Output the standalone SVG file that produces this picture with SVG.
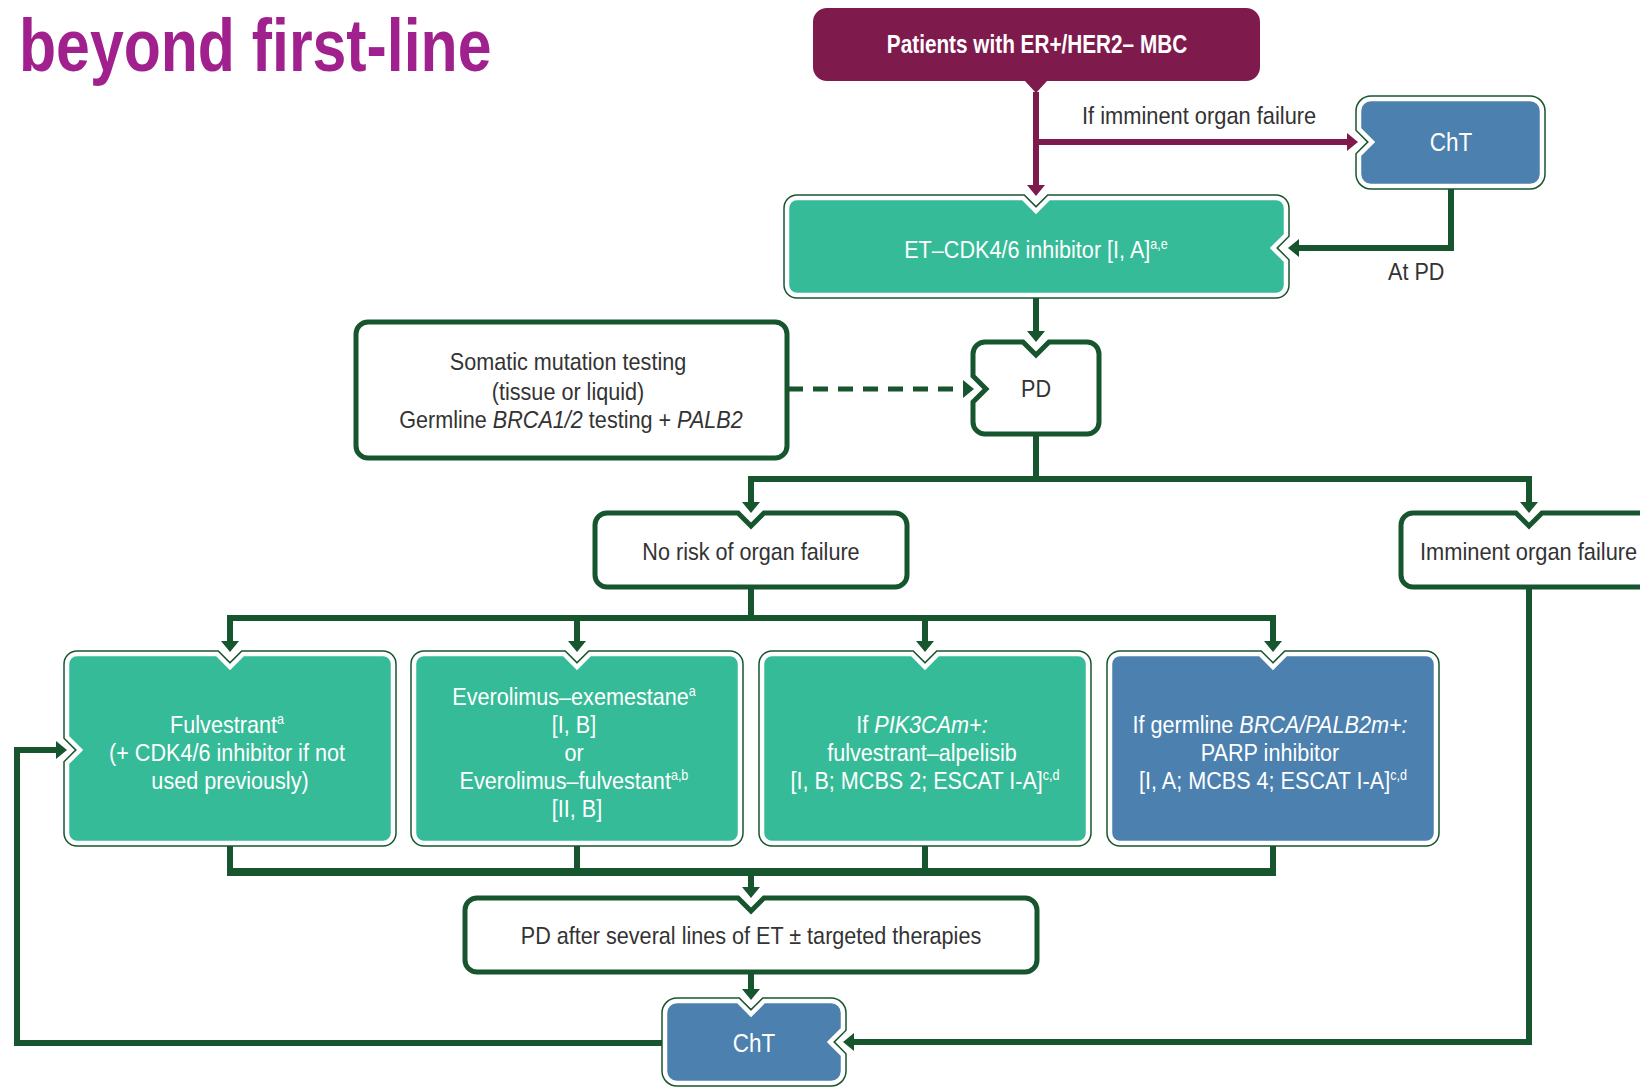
<svg xmlns="http://www.w3.org/2000/svg" width="1640" height="1087" viewBox="0 0 1640 1087">
<style>
  text { font-family: "Liberation Sans", Arial, sans-serif; }
  .title { font-size: 75px; font-weight: bold; fill: #A0218D; }
  .t { font-size: 24px; fill: #333333; text-anchor: middle; }
  .ts { font-size: 24px; fill: #333333; text-anchor: start; }
  .w { fill: #ffffff; }
  .hb { font-size: 25px; font-weight: bold; fill: #ffffff; text-anchor: middle; }
  .sup { font-size: 14px; }
  .it { font-style: italic; }
  .conn { fill: none; stroke: #17552F; stroke-width: 6; stroke-linejoin: miter; }
  .thick { stroke-width: 8; }
  .dash { stroke-width: 5; stroke-dasharray: 15 10; }
  .mconn { fill: none; stroke: #7F1A4D; stroke-width: 6; }
  .wbox { fill: #ffffff; stroke: #17552F; stroke-width: 5; }
  .ring { fill: none; stroke: #17552F; stroke-width: 7.5; }
  .teal { fill: #36BB98; stroke: #ffffff; stroke-width: 4.5; }
  .blue { fill: #4B80AF; stroke: #ffffff; stroke-width: 4.5; }
  .maroon { fill: #7F1A4D; }
</style>
<defs>
  <marker id="ag" viewBox="0 0 11 18" refX="3" refY="9" markerWidth="11" markerHeight="18" markerUnits="userSpaceOnUse" orient="auto-start-reverse">
    <path d="M0,0 L11,9 L0,18 Z" fill="#17552F"/>
  </marker>
  <marker id="am" viewBox="0 0 11 18" refX="3" refY="9" markerWidth="11" markerHeight="18" markerUnits="userSpaceOnUse" orient="auto">
    <path d="M0,0 L11,9 L0,18 Z" fill="#7F1A4D"/>
  </marker>
  <path id="p-cht1" d="M1371,99 H1530 A12,12 0 0 1 1542,111 V174 A12,12 0 0 1 1530,186 H1371 A12,12 0 0 1 1359,174 V155 L1372,142 L1359,129 V111 A12,12 0 0 1 1371,99 Z"/>
  <path id="p-et" d="M797,198 H1023 L1036,211 L1049,198 H1276 A10,10 0 0 1 1286,208 V235 L1273,248 L1286,261 V285 A10,10 0 0 1 1276,295 H797 A10,10 0 0 1 787,285 V208 A10,10 0 0 1 797,198 Z"/>
  <path id="p-b1" d="M77,654 H217 L230,667 L243,654 H383 A10,10 0 0 1 393,664 V833 A10,10 0 0 1 383,843 H77 A10,10 0 0 1 67,833 V763 L80,750 L67,737 V664 A10,10 0 0 1 77,654 Z"/>
  <path id="p-b2" d="M424,654 H564 L577,667 L590,654 H730 A10,10 0 0 1 740,664 V833 A10,10 0 0 1 730,843 H424 A10,10 0 0 1 414,833 V664 A10,10 0 0 1 424,654 Z"/>
  <path id="p-b3" d="M772,654 H912 L925,667 L938,654 H1078 A10,10 0 0 1 1088,664 V833 A10,10 0 0 1 1078,843 H772 A10,10 0 0 1 762,833 V664 A10,10 0 0 1 772,654 Z"/>
  <path id="p-b4" d="M1120,654 H1260 L1273,667 L1286,654 H1426 A10,10 0 0 1 1436,664 V833 A10,10 0 0 1 1426,843 H1120 A10,10 0 0 1 1110,833 V664 A10,10 0 0 1 1120,654 Z"/>
  <path id="p-cht2" d="M677,1001 H738 L751,1014 L764,1001 H831 A12,12 0 0 1 843,1013 V1029 L830,1042 L843,1055 V1071 A12,12 0 0 1 831,1083 H677 A12,12 0 0 1 665,1071 V1013 A12,12 0 0 1 677,1001 Z"/>
</defs>

<rect width="1640" height="1087" fill="#ffffff"/>

<text class="title" transform="translate(19 71) scale(0.81 1)">beyond first-line</text>

<g id="connectors">
  <path class="mconn" d="M1036,92 V188" marker-end="url(#am)"/>
  <path class="mconn" d="M1036,142 H1350" marker-end="url(#am)"/>
  <path class="conn" d="M1451,186 V248 H1296" marker-end="url(#ag)"/>
  <path class="conn" d="M1036,295 V334" marker-end="url(#ag)"/>
  <path class="conn dash" d="M788,389 H966" marker-end="url(#ag)"/>
  <path class="conn" d="M1036,434 V479"/>
  <path class="conn" d="M751,505 V479 H1529 V505" marker-start="url(#ag)" marker-end="url(#ag)"/>
  <path class="conn" d="M751,587 V618"/>
  <path class="conn" d="M230,644 V618 H1273 V644" marker-start="url(#ag)" marker-end="url(#ag)"/>
  <path class="conn" d="M577,618 V644" marker-end="url(#ag)"/>
  <path class="conn" d="M925,618 V644" marker-end="url(#ag)"/>
  <path class="conn" d="M230,843 V872 M577,843 V872 M925,843 V872 M1273,843 V872"/>
  <path class="conn thick" d="M227,872 H1276"/>
  <path class="conn" d="M751,872 V890" marker-end="url(#ag)"/>
  <path class="conn" d="M751,972 V992" marker-end="url(#ag)"/>
  <path class="conn" d="M1529,587 V1042 H851" marker-end="url(#ag)"/>
  <path class="conn" d="M665,1043 H17 V750 H59" marker-end="url(#ag)"/>
</g>

<g id="node-patients">
  <path class="maroon" d="M827,8 H1246 A14,14 0 0 1 1260,22 V67 A14,14 0 0 1 1246,81 H1047 L1036,93 L1025,81 H827 A14,14 0 0 1 813,67 V22 A14,14 0 0 1 827,8 Z"/>
  <text class="hb" transform="translate(1037 53) scale(0.83 1)">Patients with ER+/HER2– MBC</text>
</g>

<g id="label-imminent-top">
  <text class="ts" transform="translate(1082 124) scale(0.91 1)">If imminent organ failure</text>
</g>

<g id="node-cht-top">
  <use href="#p-cht1" class="ring"/>
  <use href="#p-cht1" class="blue"/>
  <text class="t w" style="font-size:25px" transform="translate(1451 151) scale(0.9 1)">ChT</text>
</g>

<g id="node-et-cdk">
  <use href="#p-et" class="ring"/>
  <use href="#p-et" class="teal"/>
  <text class="t w" transform="translate(1036 258) scale(0.9 1)">ET–CDK4/6 inhibitor [I, A]<tspan class="sup" dy="-9">a,e</tspan></text>
</g>

<g id="label-atpd">
  <text class="ts" transform="translate(1388 280) scale(0.9 1)">At PD</text>
</g>

<g id="node-somatic">
  <rect class="wbox" x="356" y="322" width="431" height="136" rx="12"/>
  <text class="t" transform="translate(571 0) scale(0.9 1)">
    <tspan x="0" y="370">Somatic mutation testing</tspan>
    <tspan x="0" y="400">(tissue or liquid)</tspan>
    <tspan x="0" y="428">Germline <tspan class="it">BRCA1/2</tspan> testing + <tspan class="it">PALB2</tspan></tspan>
  </text>
</g>

<g id="node-pd">
  <path class="wbox" d="M985,342 H1023 L1036,355 L1049,342 H1087 A12,12 0 0 1 1099,354 V422 A12,12 0 0 1 1087,434 H985 A12,12 0 0 1 973,422 V402 L986,389 L973,376 V354 A12,12 0 0 1 985,342 Z"/>
  <text class="t" transform="translate(1036 397) scale(0.9 1)">PD</text>
</g>

<g id="node-norisk">
  <path class="wbox" d="M607,513 H738 L751,526 L764,513 H895 A12,12 0 0 1 907,525 V575 A12,12 0 0 1 895,587 H607 A12,12 0 0 1 595,575 V525 A12,12 0 0 1 607,513 Z"/>
  <text class="t" transform="translate(751 560) scale(0.9 1)">No risk of organ failure</text>
</g>

<g id="node-imminent">
  <path class="wbox" d="M1413,513 H1516 L1529,526 L1542,513 H1648 A12,12 0 0 1 1660,525 V575 A12,12 0 0 1 1648,587 H1413 A12,12 0 0 1 1401,575 V525 A12,12 0 0 1 1413,513 Z"/>
  <text class="ts" transform="translate(1420 560) scale(0.91 1)">Imminent organ failure</text>
</g>

<g id="node-fulvestrant">
  <use href="#p-b1" class="ring"/>
  <use href="#p-b1" class="teal"/>
  <text class="t w" transform="translate(230 0) scale(0.9 1)">
    <tspan x="0" y="733">Fulvestrant<tspan class="sup" dy="-9">a</tspan></tspan>
    <tspan x="0" y="761">(+ CDK4/6 inhibitor if not</tspan>
    <tspan x="0" y="789">used previously)</tspan>
  </text>
</g>

<g id="node-everolimus">
  <use href="#p-b2" class="ring"/>
  <use href="#p-b2" class="teal"/>
  <text class="t w" transform="translate(577 0) scale(0.9 1)">
    <tspan x="0" y="705">Everolimus–exemestane<tspan class="sup" dy="-9">a</tspan></tspan>
    <tspan x="0" y="733">[I, B]</tspan>
    <tspan x="0" y="761">or</tspan>
    <tspan x="0" y="789">Everolimus–fulvestant<tspan class="sup" dy="-9">a,b</tspan></tspan>
    <tspan x="0" y="817">[II, B]</tspan>
  </text>
</g>

<g id="node-pik3ca">
  <use href="#p-b3" class="ring"/>
  <use href="#p-b3" class="teal"/>
  <text class="t w" transform="translate(925 0) scale(0.9 1)">
    <tspan x="0" y="733">If <tspan class="it">PIK3CAm+:</tspan></tspan>
    <tspan x="0" y="761">fulvestrant–alpelisib</tspan>
    <tspan x="0" y="789">[I, B; MCBS 2; ESCAT I-A]<tspan class="sup" dy="-9">c,d</tspan></tspan>
  </text>
</g>

<g id="node-parp">
  <use href="#p-b4" class="ring"/>
  <use href="#p-b4" class="blue"/>
  <text class="t w" transform="translate(1273 0) scale(0.9 1)">
    <tspan x="0" y="733">If germline <tspan class="it">BRCA/PALB2m+:</tspan></tspan>
    <tspan x="0" y="761">PARP inhibitor</tspan>
    <tspan x="0" y="789">[I, A; MCBS 4; ESCAT I-A]<tspan class="sup" dy="-9">c,d</tspan></tspan>
  </text>
</g>

<g id="node-pd-after">
  <path class="wbox" d="M477,898 H738 L751,911 L764,898 H1025 A12,12 0 0 1 1037,910 V960 A12,12 0 0 1 1025,972 H477 A12,12 0 0 1 465,960 V910 A12,12 0 0 1 477,898 Z"/>
  <text class="t" transform="translate(751 944) scale(0.9 1)">PD after several lines of ET ± targeted therapies</text>
</g>

<g id="node-cht-bottom">
  <use href="#p-cht2" class="ring"/>
  <use href="#p-cht2" class="blue"/>
  <text class="t w" style="font-size:25px" transform="translate(754 1052) scale(0.9 1)">ChT</text>
</g>
</svg>
